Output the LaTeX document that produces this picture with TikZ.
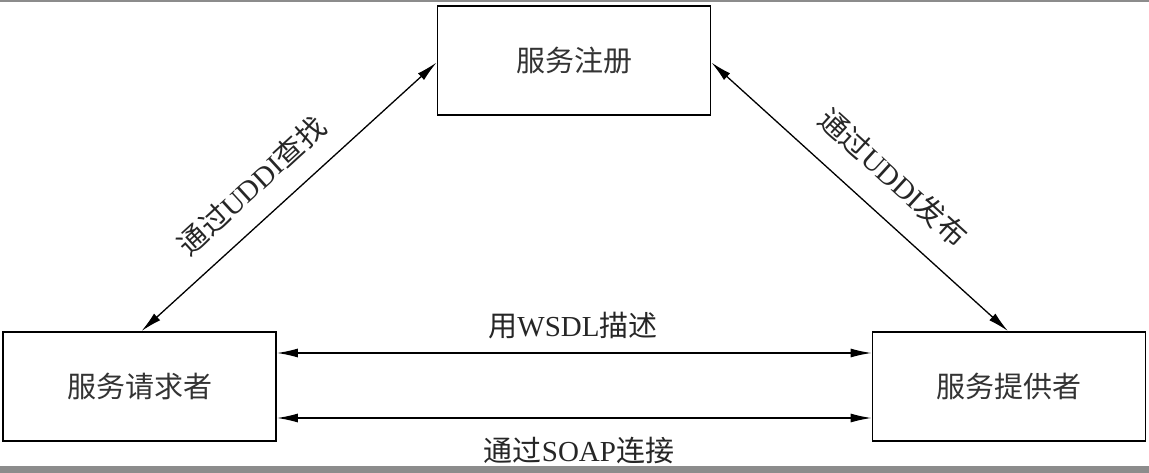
\documentclass[tikz,border=0pt]{standalone}
\usepackage{fontspec}
\setmainfont{Liberation Serif}
\newfontfamily\cjk{Noto Sans CJK SC}
\usetikzlibrary{arrows.meta,calc}
\begin{document}
\begin{tikzpicture}[x=1pt,y=-1pt,
  box/.style={draw=black,line width=1.8pt,minimum width=273pt,minimum height=109pt,inner sep=0pt,
    font=\fontsize{29}{32}\cjk,text=black!80},
  conn/.style={line width=1.3pt,{Latex[length=21pt,width=9pt]}-{Latex[length=21pt,width=9pt]},shorten <=0pt,shorten >=0pt},
  lbl/.style={font=\fontsize{29}{32}\selectfont,text=black!85,inner sep=0pt}]
\useasboundingbox (0,0) rectangle (1149,473);
\fill[white] (0,0) rectangle (1149,473);
% scan artefacts: grey top line and bottom bar
\fill[black!45] (0,0) rectangle (1149,2.5);
\fill[black!45] (0,466) rectangle (1149,473);

\node[box] (reg)  at (574,60.5)  {服务注册};
\node[box] (req)  at (139.5,386.5) {服务请求者};
\node[box] (prov) at (1009,386.5) {服务提供者};

\draw[conn] ([xshift=2pt]req.north) -- ([yshift=-2pt]reg.west);
\draw[conn] ([yshift=-2pt]reg.east) -- ([xshift=-1pt]prov.north);
\draw[conn] ([yshift=33.5pt]req.east) -- ([yshift=33.5pt]prov.west);
\draw[conn] ([yshift=-31.5pt]req.east) -- ([yshift=-31.5pt]prov.west);

\node[lbl,rotate=42.5] (l1) at ($ ($(req.north)!0.45!(reg.west)$)!32pt!90:(reg.west) $)
  {{\cjk 通过}UDDI{\cjk 查找}};
\node[lbl,rotate=-42.3] (l2) at ($ ($(reg.east)!0.53!(prov.north)$)!36pt!90:(prov.north) $)
  {{\cjk 通过}UDDI{\cjk 发布}};
\node[lbl] (l3) at (573,326) {{\cjk 用}WSDL{\cjk 描述}};
\node[lbl] (l4) at (579,451) {{\cjk 通过}SOAP{\cjk 连接}};
\end{tikzpicture}
\end{document}
